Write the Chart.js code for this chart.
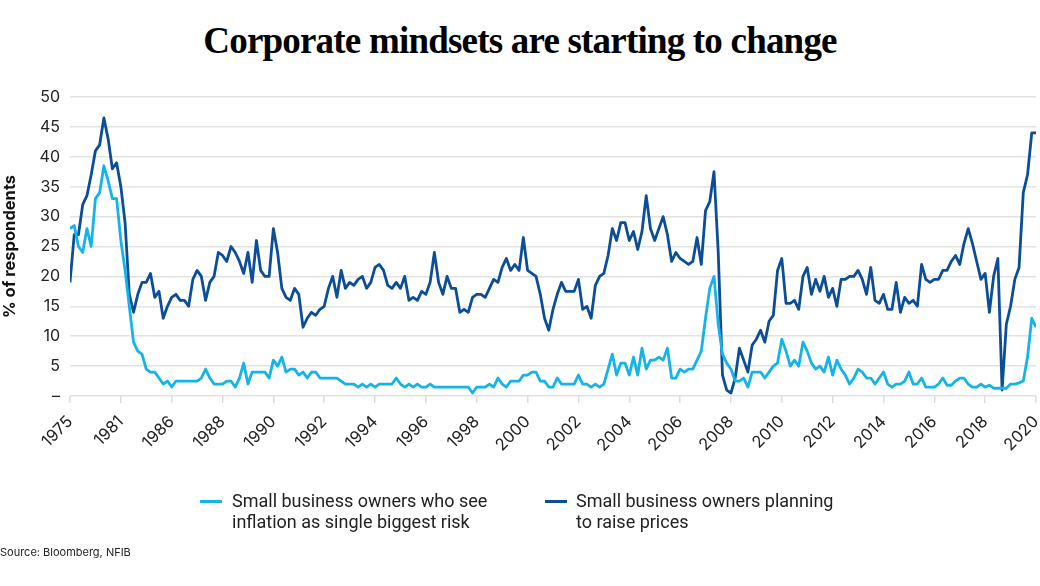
<!DOCTYPE html>
<html>
<head>
<meta charset="utf-8">
<script src="https://cdn.jsdelivr.net/npm/chart.js@4.4.0/dist/chart.umd.min.js"></script>
<style>
  html, body { margin: 0; padding: 0; background: #fff; }
  body { width: 1040px; height: 586px; position: relative; overflow: hidden; }
  #title { position: absolute; top: 19px; left: 0; width: 1040px; text-align: center;
    font-family: 'Liberation Serif', serif; font-weight: bold; font-size: 37px; letter-spacing: -0.8px; color: #000; }
  #chart { position: absolute; left: 0; top: 0; }
  .leg { position: absolute; top: 490px; font-family: Roboto, sans-serif; font-size: 18px; line-height: 21px; color: #222; }
  .sw { position: absolute; top: 500px; width: 22px; height: 3px; }
  #source { position: absolute; left: 0; top: 545px; font-family: Inter, sans-serif; font-size: 11px; color: #222; }
</style>
</head>
<body>
<div id="title">Corporate mindsets are starting to change</div>
<canvas id="chart" width="1040" height="586"></canvas>
<div class="sw" style="left:200px;background:#14b4e8"></div>
<div class="leg" style="left:232px">Small business owners who see<br>inflation as single biggest risk</div>
<div class="sw" style="left:545px;background:#0b4d96"></div>
<div class="leg" style="left:576px">Small business owners planning<br>to raise prices</div>
<div id="source">Source: Bloomberg, NFIB</div>
<script>
// Tick labels along the x axis (evenly spaced periods, 12 observations between ticks)
const tickLabels = ['1975','1981','1986','1988','1990','1992','1994','1996','1998','2000',
  '2002','2004','2006','2008','2010','2012','2014','2016','2018','2020'];

// Small business owners who see inflation as single biggest risk (%)
const inflationRisk = [
  28, 28.5, 25, 24, 28, 25, 33, 34, 38.5, 36, 33, 33,
  26, 21, 15, 9, 7.5, 7, 4.5, 4, 4, 3, 2, 2.5,
  1.5, 2.5, 2.5, 2.5, 2.5, 2.5, 2.5, 3, 4.5, 3, 2, 2,
  2, 2.5, 2.5, 1.5, 3, 5.5, 2, 4, 4, 4, 4, 3,
  6, 5, 6.5, 4, 4.5, 4.5, 3.5, 4, 3, 4, 4, 3,
  3, 3, 3, 3, 2.5, 2, 2, 2, 1.5, 2, 1.5, 2,
  1.5, 2, 2, 2, 2, 3, 2, 1.5, 2, 1.5, 2, 1.5,
  1.5, 2, 1.5, 1.5, 1.5, 1.5, 1.5, 1.5, 1.5, 1.5, 1.5, 0.5,
  1.5, 1.5, 1.5, 2, 1.5, 3, 2, 1.5, 2.5, 2.5, 2.5, 3.5,
  3.5, 4, 4, 2.5, 2.5, 1.5, 1.5, 3, 2, 2, 2, 2,
  3.5, 2, 2, 1.5, 2, 1.5, 2, 4.5, 7, 3.5, 5.5, 5.5,
  3.5, 6.5, 3.5, 8, 4.5, 6, 6, 6.5, 6, 8, 3, 3,
  4.5, 4, 4.5, 4.5, 6, 7.5, 13, 18, 20, 12, 7, 5.5,
  4.5, 2.5, 2.5, 3, 1.5, 4, 4, 4, 3, 4, 5, 5.5,
  9.5, 7.5, 5, 6, 5, 9, 7.5, 5.5, 4.5, 5, 4, 6.5,
  3.5, 6, 4.5, 3.5, 2, 3, 4.5, 4, 3, 3, 2, 3,
  4, 2, 1.5, 2, 2, 2.5, 4, 2, 2, 3, 1.5, 1.5,
  1.5, 2, 3, 1.8, 1.8, 2.5, 3, 3, 2, 1.5, 1.5, 2,
  1.5, 1.8, 1.3, 1.3, 1.3, 1.3, 2, 2, 2.2, 2.5, 6.5, 13,
  11.5
];

// Small business owners planning to raise prices (%)
const raisePrices = [
  19, 27, 27, 32, 33.5, 37, 41, 42, 46.5, 43, 38, 39,
  35, 29, 17, 14, 17, 19, 19, 20.5, 16.5, 17.5, 13, 15,
  16.5, 17, 16, 16, 15, 19.5, 21, 20, 16, 19, 20, 24,
  23.5, 22.5, 25, 24, 22.5, 20.5, 24, 19, 26, 21, 20, 20,
  28, 24, 18, 16.5, 16, 18, 17, 11.5, 13, 14, 13.5, 14.5,
  15, 18, 20, 16.5, 21, 18, 19, 18.5, 19.5, 20, 18, 19,
  21.5, 22, 21, 18.5, 18, 19, 18, 20, 16, 16.5, 16, 17.5,
  17, 19, 24, 19, 17, 20, 18, 18, 14, 14.5, 14, 16.5,
  17, 17, 16.5, 18, 19.5, 19, 21.5, 23, 21, 22, 21, 26.5,
  21, 20.5, 20, 17, 13, 11, 14.5, 17, 19, 17.5, 17.5, 17.5,
  19.5, 14.5, 15, 13, 18.5, 20, 20.5, 23.5, 28, 26, 29, 29,
  26, 27.5, 24.5, 27.5, 33.5, 28, 26, 28, 30, 27, 22.5, 24,
  23, 22.5, 22, 22.5, 26.5, 22, 31, 32.5, 37.5, 24, 3.5, 1,
  0.5, 3, 8, 6, 4, 8.5, 9.5, 11, 9, 12.5, 13.5, 21,
  23, 15.5, 15.5, 16, 14.5, 20, 21.5, 17, 19.5, 17.5, 20, 16.5,
  18, 15, 19.5, 19.5, 20, 20, 21, 19.5, 17, 21.5, 16, 15.5,
  17, 14.5, 14.5, 19, 14, 16.5, 15.5, 16, 15, 22, 19.5, 19,
  19.5, 19.5, 21, 21, 22.5, 23.5, 22, 25.5, 28, 25.5, 22.5, 19.5,
  20.5, 14, 20, 23, 1, 12, 15, 19.5, 21.5, 34, 37, 44,
  44
];

const perTick = 12;
const toPoints = arr => arr.map((y, i) => ({ x: i, y: y }));

new Chart(document.getElementById('chart'), {
  type: 'line',
  data: {
    datasets: [
      { label: 'Small business owners who see inflation as single biggest risk',
        data: toPoints(inflationRisk), borderColor: '#14b4e8', borderWidth: 2.8,
        pointRadius: 0, tension: 0, borderJoinStyle: 'round', fill: false },
      { label: 'Small business owners planning to raise prices',
        data: toPoints(raisePrices), borderColor: '#0b4d96', borderWidth: 2.8,
        pointRadius: 0, tension: 0, borderJoinStyle: 'round', fill: false }
    ]
  },
  options: {
    responsive: false,
    animation: false,
    devicePixelRatio: 1,
    layout: { padding: { top: 97, left: 0, right: 4, bottom: 130 } },
    plugins: { legend: { display: false }, tooltip: { enabled: false }, title: { display: false } },
    scales: {
      x: {
        type: 'linear', min: 0, max: (tickLabels.length - 1) * perTick,
        afterFit: s => { s.height = 60; s.paddingLeft = 0; s.paddingRight = 0; },
        ticks: {
          stepSize: perTick, autoSkip: false, maxRotation: 45, minRotation: 45,
          color: '#222', font: { family: 'Inter, sans-serif', size: 16.5 }, padding: 9,
          callback: v => tickLabels[Math.round(v / perTick)]
        },
        grid: { drawOnChartArea: false, drawTicks: true, tickLength: 7, color: '#dddddd', lineWidth: 1.5 },
        border: { display: false }
      },
      y: {
        min: 0, max: 50,
        afterFit: s => { s.width = 70; },
        ticks: { stepSize: 5, color: '#222', font: { family: 'Inter, sans-serif', size: 16 }, padding: 10,
          callback: v => v === 0 ? '–' : String(v) },
        grid: { drawTicks: false, color: '#e2e2e2', lineWidth: 1.5 },
        border: { display: false },
        title: { display: true, text: '% of respondents', color: '#111', padding: 0,
          font: { family: 'Inter, sans-serif', size: 16.5, weight: 'bold' } }
      }
    }
  }
});
</script>
</body>
</html>
